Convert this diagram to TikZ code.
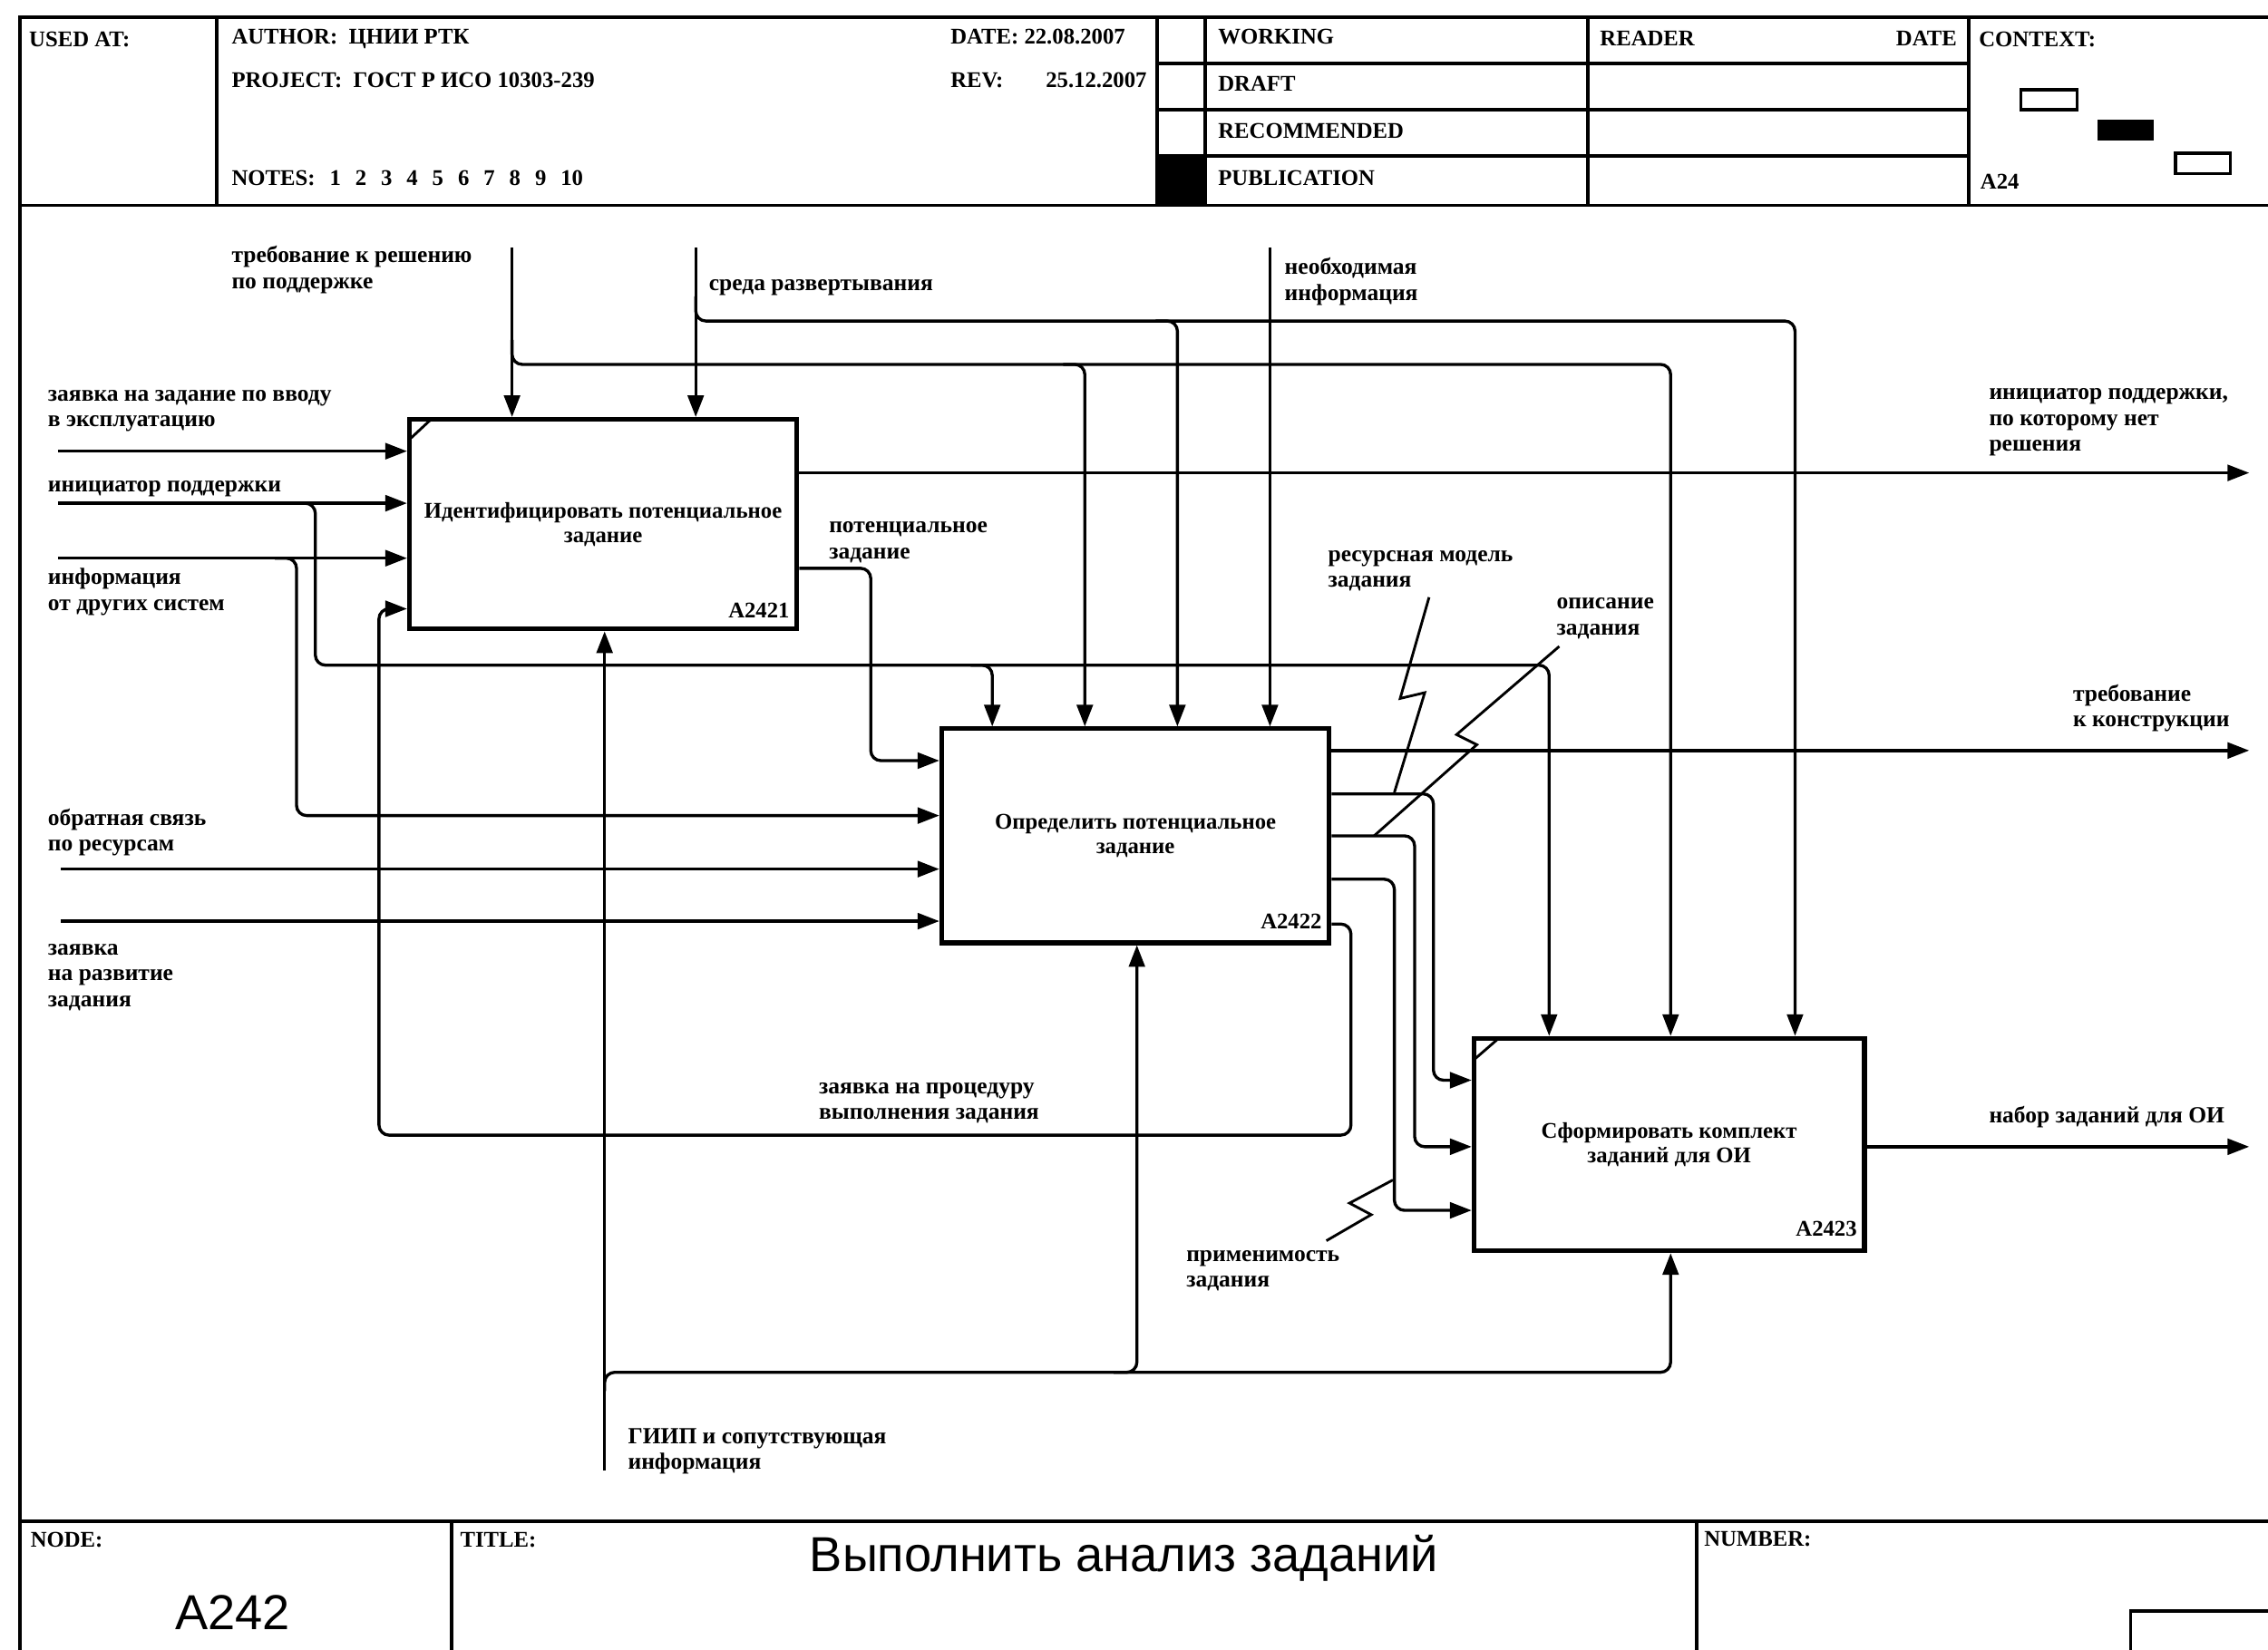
\documentclass[tikz,border=0pt]{standalone}
\usepackage{fontspec}
\setmainfont{Liberation Serif}
\newfontfamily\arialf{Liberation Sans}
\usetikzlibrary{arrows.meta}
\newcommand\lblfont{\fontsize{16}{18}\selectfont\bfseries}
\newcommand\hdrfont{\fontsize{15.5}{18}\selectfont\bfseries}
\newcommand\boxfont{\fontsize{15.5}{17}\selectfont\bfseries}
\newcommand\tstrut{\rule{0pt}{11pt}}
\newcommand\notegap{\hspace{10pt}}
\begin{document}
\begin{tikzpicture}[x=1pt,y=-1pt,
  frm/.style={line width=2.4pt},
  conn/.style={line width=2.1pt, rounded corners=7pt},
  arr/.style={conn, -{Triangle[length=15pt,width=11pt]}},
  sq/.style={line width=1.8pt},
  fbox/.style={draw, line width=3.2pt, align=center, font=\boxfont, inner sep=0},
  lbl/.style={font=\lblfont, align=left, inner sep=0, anchor=north west},
  hdr/.style={font=\hdrfont, inner sep=0, anchor=base west},
  code/.style={font=\boxfont, inner sep=0, anchor=base east}]
\useasboundingbox (0,0) rectangle (1568,1141);
\fill[white] (0,0) rectangle (1568,1141);

% ---------- frame ----------
\draw[frm] (14,1141) -- (14,12) -- (1568,12);
\draw[frm] (14,142) -- (1568,142);
\draw[frm] (150,12) -- (150,142);
\draw[frm] (800,12) -- (800,142);
\draw[frm] (833,12) -- (833,142);
\draw[frm] (1098,12) -- (1098,142);
\draw[frm] (1361,12) -- (1361,142);
\draw[frm] (800,44) -- (1361,44);
\draw[frm] (800,76) -- (1361,76);
\draw[frm] (800,108) -- (1361,108);
\fill (800,108) rectangle (833,142);
\draw[line width=2.2pt] (1397,62) rectangle (1436,76);
\fill (1450,83) rectangle (1489,97);
\draw[line width=2.2pt] (1504,106) rectangle (1542,120);
\draw[frm] (14,1052) -- (1568,1052);
\draw[frm] (312,1052) -- (312,1141);
\draw[frm] (1173,1052) -- (1173,1141);
\draw[frm] (1473,1141) -- (1473,1114) -- (1568,1114);

% ---------- header text ----------
\node[hdr] (usedat) at (20,32) {USED AT:};
\node[hdr] (author) at (160,30.5) {AUTHOR:\ \ ЦНИИ РТК};
\node[hdr] (project) at (160,60.5) {PROJECT:\ \ ГОСТ Р ИСО 10303-239};
\node[hdr] (notes) at (160,128.5) {NOTES:\notegap 1\notegap 2\notegap 3\notegap 4\notegap 5\notegap 6\notegap 7\notegap 8\notegap 9\notegap 10};
\node[hdr] (date) at (657,30.5) {DATE:\ 22.08.2007};
\node[hdr] (rev) at (657,60.5) {REV:};
\node[hdr, anchor=base east] (revd) at (793,60.5) {25.12.2007};
\node[hdr] (working) at (842,30.5) {WORKING};
\node[hdr] (draft) at (842,63) {DRAFT};
\node[hdr] (recom) at (842,95.5) {RECOMMENDED};
\node[hdr] (publ) at (842,128.5) {PUBLICATION};
\node[hdr] (reader) at (1106,31.5) {READER};
\node[hdr, anchor=base east] (rdate) at (1353,31.5) {DATE};
\node[hdr] (context) at (1368,32.5) {CONTEXT:};
\node[hdr] (a24) at (1369,130.5) {A24};

% ---------- footer text ----------
\node[hdr] (nodel) at (21,1070) {NODE:};
\node[hdr] (titlel) at (318,1070) {TITLE:};
\node[hdr] (numl) at (1178,1069) {NUMBER:};
\node[font=\arialf\fontsize{34}{38}\selectfont, inner sep=0, anchor=base] (title) at (777,1087) {Выполнить анализ заданий};
\node[font=\arialf\fontsize{34}{38}\selectfont, inner sep=0, anchor=base] (nodeno) at (161,1127) {A242};

% ---------- function boxes ----------
\node[fbox, minimum width=268pt, minimum height=145pt] (A) at (417,362.5) {Идентифицировать потенциальное\\задание};
\node[fbox, minimum width=268pt, minimum height=148pt] (B) at (785,578) {Определить потенциальное\\задание};
\node[fbox, minimum width=270pt, minimum height=147pt] (C) at (1154,791.5) {Сформировать комплект\\заданий для ОИ};
\node[code] (Acode) at (546,427) {A2421};
\node[code] (Bcode) at (914,642) {A2422};
\node[code] (Ccode) at (1284,855) {A2423};
\draw[line width=1.8pt] (283,304) -- (298,290);
\draw[line width=1.8pt] (1020,732) -- (1035,719);

% ---------- free ends ----------
\coordinate (c1) at (354,171);
\coordinate (c2) at (481,171);
\coordinate (c3) at (878,171);
\coordinate (i1) at (40,312);
\coordinate (i2) at (40,348);
\coordinate (i3) at (40,386);
\coordinate (i4) at (42,601);
\coordinate (i5) at (42,637);
\coordinate (m1) at (418,1017);
\coordinate (o1) at (1555,327);
\coordinate (o2) at (1555,519);
\coordinate (o3) at (1555,793);

% ---------- controls ----------
\draw[arr] (c1) -- (c1 |- A.north);
\draw[arr] (354,235) -- (354,252) -- (1155,252) -- (1155,0 |- C.north);
\draw[arr] (735,252) -- (750,252) -- (750,0 |- B.north);
\draw[arr] (c2) -- (c2 |- A.north);
\draw[arr] (481,205) -- (481,222) -- (1241,222) -- (1241,0 |- C.north);
\draw[arr] (799,222) -- (814,222) -- (814,0 |- B.north);
\draw[arr] (c3) -- (c3 |- B.north);

% ---------- inputs ----------
\draw[arr] (i1) -- (i1 -| A.west);
\draw[arr] (i2) -- (i2 -| A.west);
\draw[arr] (i3) -- (i3 -| A.west);
\draw[arr] (i4) -- (i4 -| B.west);
\draw[arr] (i5) -- (i5 -| B.west);
\draw[arr] (203,348) -- (218,348) -- (218,460) -- (1071,460) -- (1071,0 |- C.north);
\draw[arr] (671,460) -- (686,460) -- (686,0 |- B.north);
\draw[arr] (190,386) -- (205,386) -- (205,564) -- (0,564 -| B.west);

% ---------- outputs ----------
\draw[arr] (A.east |- o1) -- (o1);
\draw[arr] (0,393 -| A.east) -- (602,393) -- (602,526) -- (0,526 -| B.west);
\draw[arr] (B.east |- o2) -- (o2);
\draw[arr] (0,549 -| B.east) -- (991,549) -- (991,747) -- (0,747 -| C.west);
\draw[arr] (0,578 -| B.east) -- (978,578) -- (978,793) -- (0,793 -| C.west);
\draw[arr] (0,608 -| B.east) -- (964,608) -- (964,837) -- (0,837 -| C.west);
\draw[arr] (C.east |- o3) -- (o3);
\draw[arr] (0,639 -| B.east) -- (934,639) -- (934,785) -- (262,785) -- (262,421) -- (0,421 -| A.west);

% ---------- mechanisms ----------
\draw[arr] (m1) -- (m1 |- A.south);
\draw[arr] (418,962) -- (418,949) -- (1155,949) -- (1155,0 |- C.south);
\draw[arr] (770,949) -- (786,949) -- (786,0 |- B.south);

% ---------- squiggles ----------
\draw[sq] (988,413) -- (968,483) -- (985,479) -- (964,548);
\draw[sq] (1078,447) -- (1007,508) -- (1021,515) -- (950,578);
\draw[sq] (963,816) -- (933,832) -- (948,840) -- (917,858);

% ---------- labels ----------
\node[lbl] (lc1) at (160,170) {\tstrut требование к решению\\по поддержке};
\node[lbl] (lc2) at (490,190) {\tstrut среда развертывания};
\node[lbl] (lc3) at (888,178) {\tstrut необходимая\\информация};
\node[lbl] (li1) at (33,266) {\tstrut заявка на задание по вводу\\в эксплуатацию};
\node[lbl] (li2) at (33,329) {\tstrut инициатор поддержки};
\node[lbl] (li3) at (33,393) {\tstrut информация\\от других систем};
\node[lbl] (li4) at (33,559) {\tstrut обратная связь\\по ресурсам};
\node[lbl] (li5) at (33,649) {\tstrut заявка\\на развитие\\задания};
\node[lbl] (lpz) at (573,357) {\tstrut потенциальное\\задание};
\node[lbl] (lrm) at (918,377) {\tstrut ресурсная модель\\задания};
\node[lbl] (loz) at (1076,410) {\tstrut описание\\задания};
\node[lbl] (lo1) at (1375,265) {\tstrut инициатор поддержки,\\по которому нет\\решения};
\node[lbl] (ltk) at (1433,473) {\tstrut требование\\ к конструкции};
\node[lbl] (lnz) at (1375,765) {\tstrut набор заданий для ОИ};
\node[lbl] (lzp) at (566,745) {\tstrut заявка на процедуру\\выполнения задания};
\node[lbl] (lpr) at (820,861) {\tstrut применимость\\задания};
\node[lbl] (lm) at (434,987) {\tstrut ГИИП и сопутствующая\\информация};
\end{tikzpicture}
\end{document}
